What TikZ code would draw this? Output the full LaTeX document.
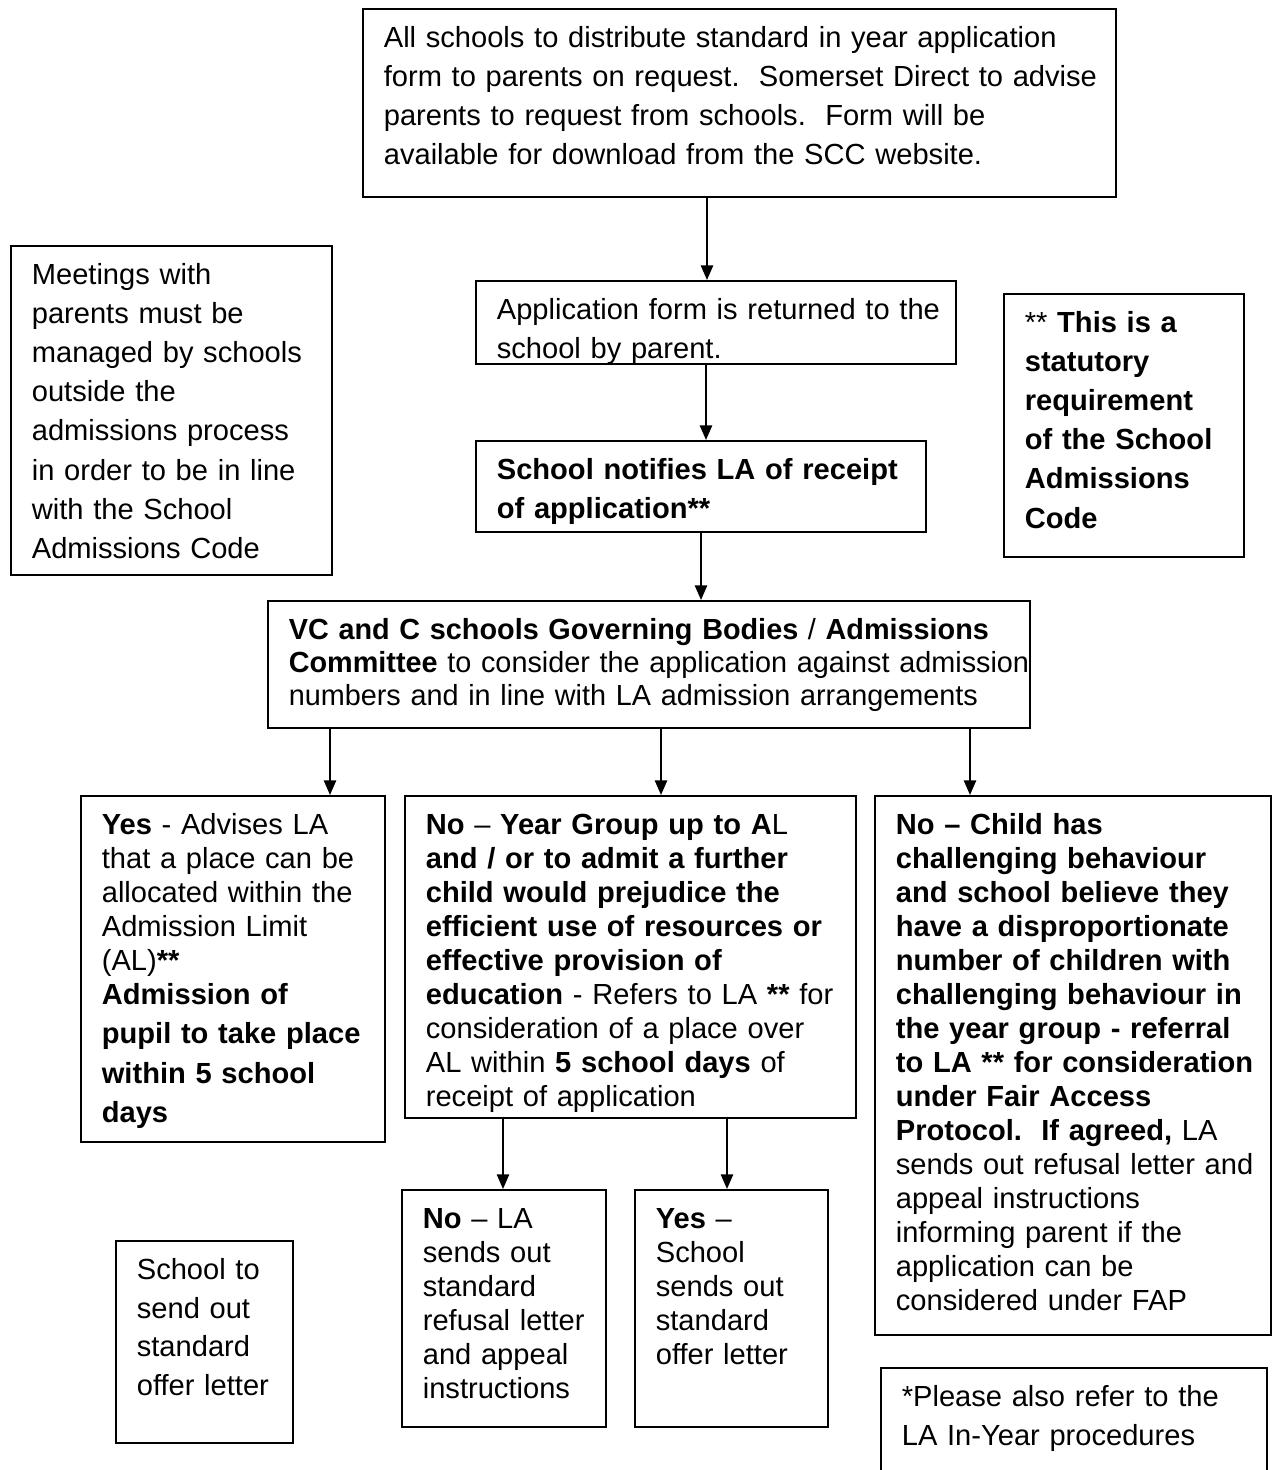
\documentclass[tikz,border=0pt]{standalone}
\usepackage{fontspec}
\setmainfont{Liberation Sans}
\newfontfamily\narrowsf{Liberation Sans}[FakeStretch=0.99]
\usetikzlibrary{arrows.meta}

\newdimen\pxu
\pxu=0.0145cm
\newcommand{\padded}[1]{\leftskip=21\pxu #1\par}

\tikzset{
  box/.style 2 args={draw, line width=0.7pt, anchor=north west, align=left,
    inner xsep=0pt, inner ysep=0pt, text height=39\pxu,
    text width=#1\pxu, text depth=#2\pxu},
  arr/.style={line width=0.8pt, -{Triangle[length=6pt,width=5pt]}},
  wide/.style={font=\fontsize{12}{16.1}\selectfont},
  tight/.style={font=\fontsize{12}{14}\selectfont}
}

\begin{document}
\begin{tikzpicture}[x=0.0145cm, y=-0.0145cm]

    \useasboundingbox (0,0) rectangle (1273,1470);

    % Top row
    \node[box={753}{149}, wide] (form) at (362,8) {\padded{All schools to distribute standard in year application\\
      form to parents on request.\ \ Somerset Direct to advise\\
      parents to request from schools.\ \ Form will be\\
      available for download from the SCC website.}};

    \node[box={321}{290}, wide] (meet) at (10,245) {\padded{Meetings with\\ parents must be\\ managed by schools\\
      outside the\\ admissions process\\ in order to be in line\\ with the School\\ Admissions Code}};

    \node[box={480}{44}, wide] (ret) at (475,280) {\padded{Application form is returned to the\\ school by parent.}};

    \node[box={450}{52}, wide] (notify) at (475,440) {\padded{\textbf{School notifies LA of receipt}\\ \textbf{of application**}}};

    \node[box={240}{224}, wide] (stat) at (1003,293) {\padded{** \textbf{This is a}\\ \textbf{statutory}\\ \textbf{requirement}\\
      \textbf{of the School}\\ \textbf{Admissions}\\ \textbf{Code}}};

    % Governing bodies
    \node[box={762}{88}, font=\narrowsf\fontsize{12}{13.6}\selectfont] (gov) at (267,600)
      {\padded{\textbf{VC and C schools Governing Bodies} / \textbf{Admissions}\\
      \textbf{Committee} to consider the application against admission\\
      numbers and in line with LA admission arrangements}};

    % Outcomes
    \node[box={304}{307}, tight] (yes) at (80,795) {\padded{\textbf{Yes} - Advises LA\\ that a place can be\\ allocated within the\\
      Admission Limit\\ (AL)\textbf{**}\\ \textbf{Admission of}\\[2.2pt] \textbf{pupil to take place}\\[2.2pt]
      \textbf{within 5 school}\\[2.2pt] \textbf{days}}};

    \node[box={451}{283}, tight] (no) at (404,795) {\padded{\textbf{No} – \textbf{Year Group up to A}L\\
      \textbf{and / or to admit a further}\\ \textbf{child would prejudice the}\\
      \textbf{efficient use of resources or}\\ \textbf{effective provision of}\\
      \textbf{education} - Refers to LA \textbf{**} for\\ consideration of a place over\\
      AL within \textbf{5 school days} of\\ receipt of application}};

    \node[box={396}{500}, tight] (fap) at (874,795) {\padded{\textbf{No – Child has}\\ \textbf{challenging behaviour}\\
      \textbf{and school believe they}\\ \textbf{have a disproportionate}\\ \textbf{number of children with}\\
      \textbf{challenging behaviour in}\\ \textbf{the year group - referral}\\ \textbf{to LA ** for consideration}\\
      \textbf{under Fair Access}\\ \textbf{Protocol.\ \ If agreed,} LA\\ sends out refusal letter and\\
      appeal instructions\\ informing parent if the\\ application can be\\ considered under FAP}};

    % Letters
    \node[box={204}{198}, tight] (refuse) at (401,1189) {\padded{\textbf{No} – LA\\ sends out\\ standard\\ refusal letter\\
      and appeal\\ instructions}};

    \node[box={193}{198}, tight] (offer) at (634,1189) {\padded{\textbf{Yes} –\\ School\\ sends out\\ standard\\ offer letter}};

    \node[box={177}{163}, font=\fontsize{12}{15.9}\selectfont] (send) at (115,1240) {\padded{School to\\ send out\\ standard\\ offer letter}};

    \node[box={386}{101}, wide] (note) at (880,1367) {\padded{*Please also refer to the\\ LA In-Year procedures}};

    % Arrows
    \draw[arr] (form.south -| 707,0) -- (ret.north -| 707,0);
    \draw[arr] (ret.south -| 706,0) -- (notify.north -| 706,0);
    \draw[arr] (notify.south -| 701,0) -- (gov.north -| 701,0);

    \draw[arr] (gov.south -| 330,0) -- (yes.north -| 330,0);
    \draw[arr] (gov.south -| 661,0) -- (no.north -| 661,0);
    \draw[arr] (gov.south -| 970,0) -- (fap.north -| 970,0);

    \draw[arr] (no.south -| 503,0) -- (refuse.north -| 503,0);
    \draw[arr] (no.south -| 727,0) -- (offer.north -| 727,0);

\end{tikzpicture}
\end{document}
